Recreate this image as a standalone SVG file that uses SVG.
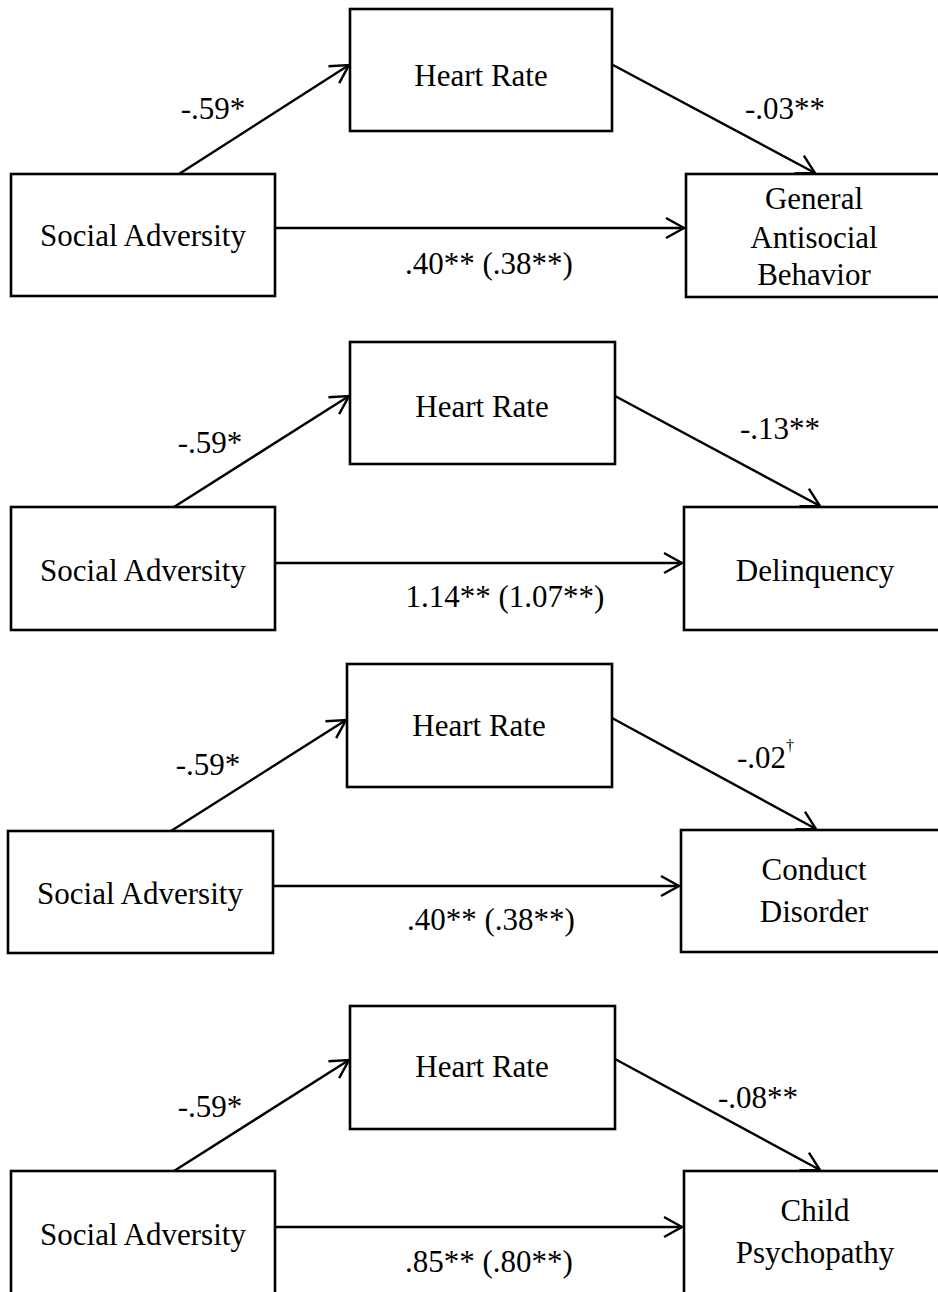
<svg xmlns="http://www.w3.org/2000/svg" width="938" height="1292" viewBox="0 0 938 1292">
<style>
.box{fill:#fff;stroke:#000;stroke-width:2.6}
.t{font-family:"Liberation Serif","Times New Roman",serif;font-size:31px;fill:#000;text-anchor:middle}
.ts{font-family:"Liberation Serif","Times New Roman",serif;font-size:31px;fill:#000;text-anchor:start}
.c{fill:none;stroke:#000;stroke-width:2.4;marker-end:url(#arr)}
</style>
<defs>
<marker id="arr" markerUnits="userSpaceOnUse" markerWidth="26" markerHeight="26" viewBox="0 0 26 26" refX="21" refY="13" orient="auto" overflow="visible">
<path d="M3,3 L21,13 L3,23" fill="none" stroke="#000" stroke-width="2.4" stroke-linejoin="miter"/>
</marker>
</defs>
<rect width="938" height="1292" fill="#fff"/>

<g id="connectors">
<line class="c" x1="179" y1="174" x2="349" y2="65"/>
<line class="c" x1="613" y1="65" x2="815" y2="173"/>
<line class="c" x1="273" y1="228" x2="684" y2="228"/>

<line class="c" x1="174" y1="507" x2="349" y2="396"/>
<line class="c" x1="615" y1="396" x2="820" y2="506"/>
<line class="c" x1="275" y1="563" x2="682" y2="563"/>

<line class="c" x1="171" y1="831" x2="346" y2="720"/>
<line class="c" x1="612" y1="718" x2="816" y2="829"/>
<line class="c" x1="273" y1="886" x2="679" y2="886"/>

<line class="c" x1="174" y1="1171" x2="349" y2="1060"/>
<line class="c" x1="615" y1="1059" x2="820" y2="1170"/>
<line class="c" x1="275" y1="1227" x2="682" y2="1227"/>
</g>

<g id="labels">
<text class="t" x="213" y="119">-.59*</text>
<text class="t" x="785" y="119">-.03**</text>
<text class="t" x="489" y="274">.40** (.38**)</text>

<text class="t" x="210" y="453">-.59*</text>
<text class="t" x="780" y="439">-.13**</text>
<text class="t" x="505" y="607">1.14** (1.07**)</text>

<text class="t" x="208" y="775">-.59*</text>
<text class="ts" x="737" y="768">-.02<tspan font-size="16" dy="-17">†</tspan></text>
<text class="t" x="491" y="930">.40** (.38**)</text>

<text class="t" x="210" y="1117">-.59*</text>
<text class="t" x="758" y="1108">-.08**</text>
<text class="t" x="489" y="1272">.85** (.80**)</text>
</g>

<g id="p1-social"><rect class="box" x="11" y="174" width="264" height="122"/><text class="t" x="143" y="246">Social Adversity</text></g>
<g id="p1-heart"><rect class="box" x="350" y="9" width="262" height="122"/><text class="t" x="481" y="86">Heart Rate</text></g>
<g id="p1-outcome"><rect class="box" x="686" y="174" width="260" height="123"/><text class="t" x="814" y="209">General</text><text class="t" x="814" y="248">Antisocial</text><text class="t" x="814" y="285">Behavior</text></g>

<g id="p2-social"><rect class="box" x="11" y="507" width="264" height="123"/><text class="t" x="143" y="581">Social Adversity</text></g>
<g id="p2-heart"><rect class="box" x="350" y="342" width="265" height="122"/><text class="t" x="482" y="417">Heart Rate</text></g>
<g id="p2-outcome"><rect class="box" x="684" y="507" width="262" height="123"/><text class="t" x="815" y="581">Delinquency</text></g>

<g id="p3-social"><rect class="box" x="8" y="831" width="265" height="122"/><text class="t" x="140" y="904">Social Adversity</text></g>
<g id="p3-heart"><rect class="box" x="347" y="664" width="265" height="123"/><text class="t" x="479" y="736">Heart Rate</text></g>
<g id="p3-outcome"><rect class="box" x="681" y="830" width="265" height="122"/><text class="t" x="814" y="880">Conduct</text><text class="t" x="814" y="922">Disorder</text></g>

<g id="p4-social"><rect class="box" x="11" y="1171" width="264" height="140"/><text class="t" x="143" y="1245">Social Adversity</text></g>
<g id="p4-heart"><rect class="box" x="350" y="1006" width="265" height="123"/><text class="t" x="482" y="1077">Heart Rate</text></g>
<g id="p4-outcome"><rect class="box" x="684" y="1171" width="262" height="140"/><text class="t" x="815" y="1221">Child</text><text class="t" x="815" y="1263">Psychopathy</text></g>
</svg>
